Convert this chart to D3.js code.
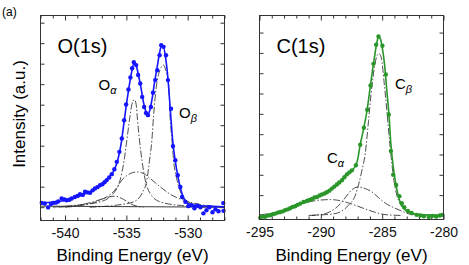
<!DOCTYPE html>
<html>
<head>
<meta charset="utf-8">
<script src="https://cdn.jsdelivr.net/npm/d3@7"></script>
<style>
  body { margin: 0; background: #fff; }
  svg { display: block; font-family: "Liberation Sans", Arial, sans-serif; }
</style>
</head>
<body>
<script>
const width = 469
const height = 265

// O(1s) data, [binding energy (eV), intensity (a.u.)]
const oDots = [[-541.9,0.21],[-541.65,0.18],[-541.38,-0.01],[-541.15,0.15],[-540.97,0.21],[-540.75,0.22],[-540.56,0.28],[-540.28,0.42],[-540.05,0.38],[-539.87,0.34],[-539.65,0.36],[-539.46,0.42],[-539.2,0.5],[-538.98,0.55],[-538.78,0.63],[-538.55,0.6],[-538.37,0.75],[-538.15,0.72],[-537.96,0.7],[-537.75,0.82],[-537.56,0.91],[-537.35,0.98],[-537.15,1.07],[-536.95,1.12],[-536.78,1.22],[-536.6,1.32],[-536.4,1.45],[-536.19,1.61],[-535.98,1.85],[-535.78,2.21],[-535.57,2.7],[-535.37,3.35],[-535.18,4.24],[-535.02,5.01],[-534.83,5.74],[-534.67,6.33],[-534.53,6.78],[-534.39,7.07],[-534.2,6.93],[-534.04,6.45],[-533.87,6.03],[-533.71,5.38],[-533.55,4.89],[-533.4,4.6],[-533.24,4.49],[-533.0,4.89],[-532.83,5.58],[-532.65,6.2],[-532.48,6.68],[-532.29,7.41],[-532.16,7.9],[-531.97,7.82],[-531.77,7.41],[-531.61,6.2],[-531.36,4.8],[-531.2,2.98],[-531.01,2.29],[-530.81,1.56],[-530.6,0.99],[-530.46,0.5],[-530.19,0.26],[-529.95,0.05],[-529.7,0.1],[-529.45,-0.05],[-529.21,0.07],[-528.96,0.0],[-528.72,-0.3],[-528.47,-0.15],[-528.23,0.0],[-527.98,-0.25],[-527.74,-0.1],[-527.49,-0.2],[-527.1,0.2],[-527.08,-0.18]]
const oFit = [[-542,0.2],[-541,0.25],[-540,0.33],[-539,0.5],[-538,0.75],[-537.5,0.9],[-537,1.12],[-536.5,1.4],[-536,1.8],[-535.7,2.3],[-535.4,3.2],[-535.2,4.1],[-535,5.0],[-534.8,5.8],[-534.6,6.5],[-534.4,7.0],[-534.2,6.9],[-534,6.4],[-533.8,5.8],[-533.6,5.1],[-533.4,4.65],[-533.25,4.5],[-533.1,4.7],[-532.9,5.3],[-532.7,6.1],[-532.5,6.8],[-532.3,7.5],[-532.15,7.85],[-532,7.85],[-531.8,7.3],[-531.6,6.2],[-531.4,4.6],[-531.2,3.1],[-531,2.2],[-530.8,1.5],[-530.6,0.95],[-530.4,0.55],[-530.2,0.3],[-530,0.18],[-529.5,0.1],[-529,0.07],[-528,0.04],[-527,0.02]]
const oBeta = [[-538,0],[-535.78,0.1],[-534.42,0.26],[-533.73,0.67],[-533.33,1.32],[-533.11,2.29],[-532.92,3.27],[-532.79,4.4],[-532.55,5.9],[-532.25,6.7],[-531.97,6.93],[-531.75,6.6],[-531.56,6.03],[-531.42,4.24],[-531.28,3.27],[-531.15,2.29],[-530.87,1.32],[-530.46,0.59],[-529.78,0.21],[-528.42,0.05],[-527,0]]
const oAlpha = [[-541,0],[-539.05,0.1],[-537.15,0.26],[-536.06,0.67],[-535.51,1.32],[-535.18,2.29],[-534.96,3.27],[-534.75,4.24],[-534.55,5.0],[-534.34,5.25],[-534.2,5.0],[-534.09,4.24],[-533.93,3.27],[-533.73,2.29],[-533.46,1.32],[-533.06,0.67],[-532.24,0.26],[-530.5,0.08],[-528,0]]
const oBroad = [[-540,0],[-538.51,0.1],[-537.15,0.34],[-536.06,0.75],[-535.24,1.4],[-534.69,1.64],[-534.15,1.72],[-533.6,1.64],[-533.06,1.4],[-532.24,0.99],[-531.42,0.63],[-530.33,0.34],[-528.96,0.13],[-527.3,0.01]]
const oSmall = [[-540.5,0],[-539.05,0.08],[-537.7,0.26],[-536.6,0.47],[-535.92,0.54],[-535.24,0.38],[-534.42,0.1],[-533.6,0]]
const oBase = [[-542,0.05],[-527,0]]

// C(1s) data
const cDots = [[-294.94,-0.12],[-294.75,-0.05],[-294.54,-0.07],[-294.33,0.0],[-294.13,0.01],[-293.92,0.06],[-293.72,0.09],[-293.5,0.14],[-293.31,0.17],[-293.1,0.2],[-292.91,0.26],[-292.7,0.3],[-292.5,0.35],[-292.3,0.42],[-292.09,0.45],[-291.9,0.52],[-291.68,0.58],[-291.41,0.66],[-291.14,0.71],[-290.95,0.76],[-290.73,0.81],[-290.52,0.88],[-290.32,0.91],[-290.1,0.98],[-289.91,1.03],[-289.7,1.08],[-289.51,1.14],[-289.3,1.22],[-289.1,1.32],[-288.9,1.42],[-288.69,1.52],[-288.5,1.62],[-288.28,1.73],[-288.08,1.88],[-287.88,2.02],[-287.67,2.12],[-287.47,2.22],[-287.14,2.47],[-286.79,3.48],[-286.49,4.32],[-286.22,5.2],[-285.95,6.4],[-285.71,7.46],[-285.49,8.4],[-285.3,8.81],[-284.98,8.35],[-284.7,6.94],[-284.46,4.97],[-284.29,3.17],[-284.1,2.0],[-283.86,1.5],[-283.6,0.95],[-283.4,0.6],[-283.2,0.4],[-282.9,0.22],[-282.6,0.12],[-282.2,0.03],[-281.9,0.0],[-281.6,-0.04],[-281.2,-0.08],[-280.9,-0.02],[-280.6,-0.06],[-280.3,0.0],[-280.1,0.03]]
const cFit = [[-295,-0.05],[-294,0.05],[-293,0.22],[-292,0.5],[-291,0.76],[-290.5,0.9],[-290,1.01],[-289.5,1.15],[-289,1.37],[-288.5,1.62],[-288,1.93],[-287.5,2.2],[-287.2,2.42],[-287,2.75],[-286.8,3.45],[-286.5,4.3],[-286.2,5.3],[-286,6.2],[-285.8,7.1],[-285.6,7.9],[-285.4,8.6],[-285.3,8.8],[-285.15,8.7],[-285,8.3],[-284.8,7.4],[-284.6,6.0],[-284.45,5.0],[-284.3,3.6],[-284.1,2.4],[-283.9,1.6],[-283.7,1.0],[-283.5,0.6],[-283.2,0.32],[-282.8,0.15],[-282.3,0.07],[-281.5,0.03],[-280,0.02]]
const cBeta = [[-291,0],[-290.19,0.02],[-288.83,0.09],[-287.75,0.5],[-287.19,0.99],[-286.65,2.22],[-286.38,3.04],[-286.11,4.67],[-285.9,6.0],[-285.6,7.4],[-285.4,7.9],[-285.24,7.96],[-285.05,7.7],[-284.85,6.6],[-284.62,5.17],[-284.35,3.37],[-284.08,1.89],[-283.67,0.75],[-282.86,0.17],[-281.76,0]]
const cMid = [[-290.73,0],[-289.65,0.09],[-288.83,0.34],[-288.28,0.66],[-287.75,1.08],[-287.34,1.32],[-286.93,1.4],[-286.38,1.32],[-285.84,1.16],[-285.3,0.88],[-284.76,0.61],[-284.08,0.39],[-283.39,0.21],[-282.58,0.04],[-281.76,0]]
const cBroad = [[-294.94,0.03],[-293.9,0.12],[-292.9,0.29],[-291.54,0.58],[-290.19,0.75],[-289.24,0.78],[-288.28,0.71],[-287.2,0.5],[-286.11,0.26],[-284.76,0.04],[-283.5,0]]

const oMajor = [-540, -535, -530]
const cMajor = [-295, -290, -285, -280]
const yTicks = [0, 1, 2, 3, 4, 5, 6, 7, 8, 9]

const svg = d3.select('body')
        .append('svg')
        .attr('width', width)
        .attr('height', height)

svg.append('text')
        .text('(a)')
        .attr('x', 2)
        .attr('y', 16)
        .attr('font-size', '12px')

svg.append('text')
        .text('Intensity (a.u.)')
        .attr('transform', 'translate(24.5,114) rotate(-90)')
        .attr('text-anchor', 'middle')
        .attr('font-size', '17px')

const drawPanel = (p) => {
    const x = d3.scaleLinear().domain(p.xDomain).range([p.left, p.right])
    const y = d3.scaleLinear().domain(p.yDomain).range([p.bottom, p.top])
    const g = svg.append('g')

    const minor = d3.range(p.xDomain[0], p.xDomain[1] + 0.01, 1).filter(v => !p.major.includes(v))

    // axes, ticks pointing inward
    const xb = g.append('g').attr('transform', 'translate(0,' + p.bottom + ')')
    xb.call(d3.axisBottom(x).tickValues(p.major).tickSize(-5).tickPadding(8).tickFormat(d => String(d)))
    xb.append('g').call(d3.axisBottom(x).tickValues(minor).tickSize(-3).tickFormat(''))
    const xt = g.append('g').attr('transform', 'translate(0,' + p.top + ')')
    xt.call(d3.axisTop(x).tickValues(p.major).tickSize(-5).tickFormat(''))
    xt.append('g').call(d3.axisTop(x).tickValues(minor).tickSize(-3).tickFormat(''))
    g.append('g').attr('transform', 'translate(' + p.left + ',0)')
        .call(d3.axisLeft(y).tickValues(yTicks).tickSize(-4).tickFormat(''))
    g.append('g').attr('transform', 'translate(' + p.right + ',0)')
        .call(d3.axisRight(y).tickValues(yTicks).tickSize(-4).tickFormat(''))
    g.selectAll('.domain').remove()
    g.selectAll('.tick line').attr('stroke', '#333')
    g.selectAll('.tick text')
        .attr('font-size', '14px')
        .attr('font-family', '"Liberation Sans", Arial, sans-serif')
        .attr('fill', '#111')

    const line = d3.line()
        .x(d => x(d[0]))
        .y(d => y(d[1]))
        .curve(d3.curveMonotoneX)

    g.selectAll('.comp')
        .data(p.comps)
        .join('path')
        .attr('class', 'comp')
        .attr('d', line)
        .attr('fill', 'none')
        .attr('stroke', '#222')
        .attr('stroke-width', 0.8)
        .attr('stroke-dasharray', '7,2,1.5,2')

    if (p.base) {
        g.append('path')
            .attr('d', line(p.base))
            .attr('fill', 'none')
            .attr('stroke', '#222')
            .attr('stroke-width', 0.9)
    }

    g.append('path')
        .attr('d', line(p.fit))
        .attr('fill', 'none')
        .attr('stroke', p.color)
        .attr('stroke-width', 1.6)

    g.selectAll('.dot')
        .data(p.dots)
        .join('circle')
        .attr('class', 'dot')
        .attr('cx', d => x(d[0]))
        .attr('cy', d => y(d[1]))
        .attr('r', 2.2)
        .attr('fill', p.color)

    // frame
    g.append('rect')
        .attr('x', p.left)
        .attr('y', p.top)
        .attr('width', p.right - p.left)
        .attr('height', p.bottom - p.top)
        .attr('fill', 'none')
        .attr('stroke', '#333')
        .attr('stroke-width', 1)

    g.append('text')
        .text(p.title)
        .attr('x', p.left + 17)
        .attr('y', 53)
        .attr('font-size', '20px')

    p.peaks.forEach(k => {
        const t = g.append('text')
            .attr('x', k.x)
            .attr('y', k.y)
            .attr('font-size', '15px')
        t.append('tspan').text(k.el)
        t.append('tspan').text(k.sub)
            .attr('font-size', '11px')
            .attr('font-style', 'italic')
            .attr('dy', 4)
    })

    g.append('text')
        .text('Binding Energy (eV)')
        .attr('x', (p.left + p.right) / 2)
        .attr('y', 260.5)
        .attr('text-anchor', 'middle')
        .attr('font-size', '17px')
}

drawPanel({
    xDomain: [-542, -527], yDomain: [-0.65, 9.35],
    left: 40.5, right: 224.5, top: 15.5, bottom: 220.5,
    major: oMajor, color: '#1515ff', title: 'O(1s)',
    dots: oDots, fit: oFit, comps: [oSmall, oBroad, oAlpha, oBeta], base: oBase,
    peaks: [{el: 'O', sub: 'α', x: 98.5, y: 90}, {el: 'O', sub: 'β', x: 179, y: 118}]
})

drawPanel({
    xDomain: [-295, -280], yDomain: [-0.2, 9.84],
    left: 259.5, right: 443.5, top: 15.5, bottom: 219.5,
    major: cMajor, color: '#2a962a', title: 'C(1s)',
    dots: cDots, fit: cFit, comps: [cBroad, cMid, cBeta], base: null,
    peaks: [{el: 'C', sub: 'β', x: 395, y: 89}, {el: 'C', sub: 'α', x: 327, y: 163}]
})
</script>
</body>
</html>
